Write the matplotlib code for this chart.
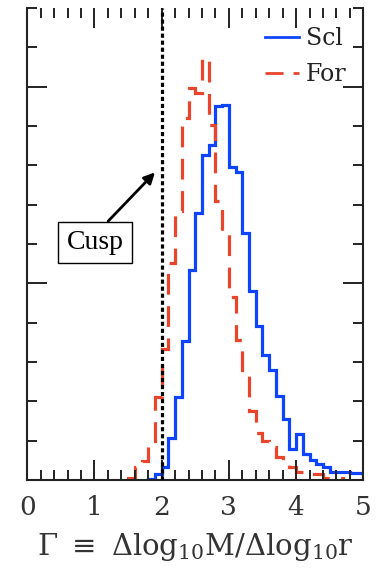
import numpy as np
import matplotlib
matplotlib.use("Agg")
import matplotlib.pyplot as plt
from matplotlib.ticker import MultipleLocator, NullFormatter

# histogram of Gamma for the two samples (bin edges and heights)
scl_edges = [1.8, 1.9, 2.0, 2.1, 2.2, 2.3, 2.4, 2.5, 2.6, 2.7, 2.8, 2.9, 3.0,
             3.1, 3.2, 3.3, 3.4, 3.5, 3.6, 3.7, 3.8, 3.9, 4.0, 4.1, 4.2, 4.3,
             4.4, 4.5, 4.6, 4.7, 4.8, 4.9, 5.0]
scl_counts = [0.03, 0.15, 0.34, 1.08, 2.10, 3.54, 5.33, 6.78, 8.26, 8.52, 9.50,
              9.54, 7.95, 7.84, 6.29, 4.80, 3.92, 3.19, 2.80, 2.14, 1.55, 0.80,
              1.18, 0.66, 0.52, 0.42, 0.32, 0.21, 0.21, 0.21, 0.17, 0.17]

for_edges = [1.5, 1.6, 1.7, 1.8, 1.9, 2.0, 2.1, 2.2, 2.3, 2.4, 2.5, 2.6, 2.7,
             2.8, 2.9, 3.0, 3.1, 3.2, 3.3, 3.4, 3.5, 3.6, 3.7, 3.8, 3.9, 4.0,
             4.1, 4.2, 4.3, 4.4, 4.5, 4.6, 4.7]
for_counts = [0.05, 0.32, 0.48, 1.00, 2.10, 3.33, 5.52, 6.83, 9.20, 9.97, 9.83,
              10.72, 9.03, 7.10, 6.26, 4.65, 3.55, 2.75, 1.75, 1.20, 1.00, 0.85,
              0.59, 0.45, 0.34, 0.21, 0.15, 0.15, 0.15, 0.05, 0.05, 0.04]

labels = ["Scl", "For"]
cusp_gamma = 2.0

blue = "#0f44ff"
red = "#e8452c"

plt.rcParams["mathtext.fontset"] = "dejavuserif"
plt.rcParams["font.family"] = "DejaVu Serif"

fig = plt.figure(figsize=(3.85, 5.72), dpi=100)
ax = fig.add_axes([0.0709, 0.1608, 0.8727, 0.8252])

ax.stairs(scl_counts, scl_edges, color=blue, linewidth=2.3, label=labels[0])
ax.stairs(for_counts, for_edges, color=red, linewidth=2.3,
          linestyle=(0, (6.5, 3.6)), label=labels[1])
ax.axvline(cusp_gamma, color="black", linewidth=2.3,
           linestyle=(0, (1.3, 0.9)), zorder=5)

ax.set_xlim(0, 5)
ax.set_ylim(0, 12)

ax.xaxis.set_major_locator(MultipleLocator(1))
ax.xaxis.set_minor_locator(MultipleLocator(0.2))
ax.yaxis.set_major_locator(MultipleLocator(5))
ax.yaxis.set_minor_locator(MultipleLocator(1))
ax.yaxis.set_major_formatter(NullFormatter())

ax.tick_params(which="both", direction="in", top=True, right=True,
               width=1.4, color="#222222")
ax.tick_params(which="major", length=14.5)
ax.tick_params(which="minor", length=7.2)
ax.tick_params(axis="x", which="major", pad=11, labelsize=19, labelcolor="#333333")

for side in ["left", "right", "bottom"]:
    ax.spines[side].set_linewidth(1.5)
    ax.spines[side].set_color("#222222")
ax.spines["top"].set_visible(False)

ax.set_xlabel(r"$\Gamma\ \equiv\ \Delta\mathrm{log}_{10}\mathrm{M}/\Delta\mathrm{log}_{10}\mathrm{r}$",
              fontsize=21, labelpad=8, color="#333333")

leg = ax.legend(loc="upper right", bbox_to_anchor=(0.95, 0.96), frameon=False,
                prop={"size": 17},
                handlelength=1.45, handletextpad=0.3, labelspacing=0.55,
                borderpad=0, borderaxespad=0)
for h in leg.get_lines():
    h.set_linewidth(2.0)
for t in leg.get_texts():
    t.set_color("#222222")

ax.annotate("Cusp", xy=(1.90, 7.82), xytext=(1.01, 6.04),
            fontsize=20, family="Liberation Serif", ha="center", va="center",
            bbox=dict(boxstyle="square,pad=0.3", fc="white", ec="black", lw=1.0),
            arrowprops=dict(arrowstyle="-|>", color="black", lw=2.0,
                            mutation_scale=16, shrinkA=0, shrinkB=0,
                            relpos=(0.58, 1.0)))

fig.savefig("out.png", dpi=100)
